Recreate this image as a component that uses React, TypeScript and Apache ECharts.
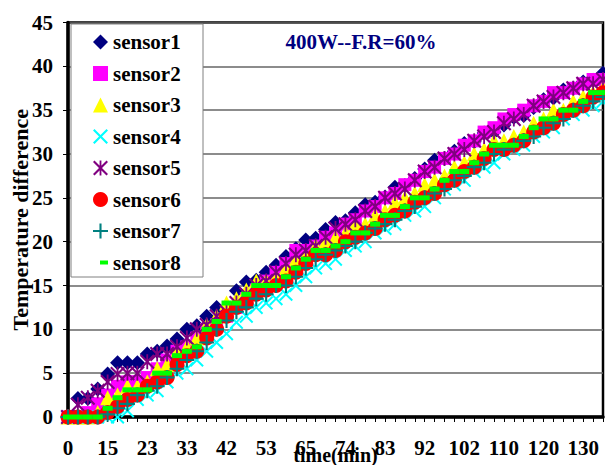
import React, { useEffect, useRef } from "react";
import * as echarts from "echarts";

// time (min) for each sample; only every 4th is shown as a label
const timeMinutes = [
  0, 4, 8, 11, 15, 17, 19, 21, 23, 26, 28, 31, 33, 35, 37, 40, 42, 45, 48, 50,
  53, 56, 59, 62, 65, 67, 69, 72, 74, 76, 78, 81, 83, 85, 87, 90, 92, 95, 97, 100,
  102, 104, 106, 108, 110, 113, 115, 118, 120, 123, 125, 128, 130, 132, 135,
];

const sensorNames = ["sensor1", "sensor2", "sensor3", "sensor4", "sensor5", "sensor6", "sensor7", "sensor8"];

const sensor1 = [
  0, 2.1, 2.1, 3.2, 4.9, 6.2, 6.2, 6.2, 7.2, 7.5, 8.1, 8.9, 10, 10.4, 11.5, 12.5, 12.5, 14.4, 15.4, 15.6,
  16.5, 17.3, 18.3, 19.2, 20.2, 20.4, 21.4, 22.2, 22.4, 23.3, 24.2, 24.5, 25.1, 26.2, 26.4, 27.2, 28.3, 29.3, 29.5, 30.3,
  31.2, 31.4, 32.4, 32.5, 33.3, 34.2, 34.4, 35.3, 36.2, 36.4, 37.3, 37.5, 38.2, 38.4, 39.2,
];
const sensor2 = [
  0, 0, 0.5, 1.5, 2.5, 3.5, 4, 4, 4.5, 5.5, 6.5, 7.5, 8, 9, 10, 10.5, 11.5, 12.5, 13.5, 14.5,
  15.5, 16.5, 17.5, 19, 19, 19.5, 20.5, 21, 22, 22.5, 23.5, 24, 25, 25.5, 26.5, 27, 28, 28.5, 29.5, 30,
  31, 31.5, 32.5, 33, 34, 34.5, 35, 35.5, 36, 37, 37, 37.5, 38, 38.5, 38.5,
];
const sensor3 = [
  0, 0, 0, 0.5, 2.2, 2.5, 3.5, 3.5, 4, 5.5, 6, 7.5, 8, 9, 10.5, 11.5, 13, 13.5, 14.5, 15.5,
  15.5, 16, 17, 18, 18.5, 19.5, 20, 20.5, 21, 22, 22, 23, 23.5, 24.5, 25, 25.5, 26.5, 27, 27.5, 28.5,
  29, 30, 30.5, 31.5, 31.5, 32, 32.5, 33.5, 34, 35, 35, 36, 36.5, 37, 37.5,
];
const sensor4 = [
  0, 0, 0, 0, 0, 0, 0.7, 2, 2.5, 3, 4, 5, 5.5, 6.5, 7.5, 8.5, 9.5, 10.8, 11.5, 12.5,
  13, 13.5, 14, 15, 16, 17, 17.5, 18, 19, 19.5, 20, 21, 21.5, 22, 23, 23.5, 24, 25, 26, 26.5,
  27, 28, 28.5, 29, 30, 30.5, 31, 32, 32.5, 33, 34, 34.5, 35, 35.5, 36,
];
const sensor5 = [
  0, 1.4, 2.2, 3, 4, 4.9, 5, 5, 6.3, 7.2, 7.2, 8, 9, 10, 10.5, 11.5, 12, 13, 14, 15,
  15.5, 16.5, 17.5, 18.5, 19, 19.5, 20.5, 21.5, 22, 22.5, 23.5, 24, 25, 25.5, 26, 27, 28, 28.5, 29.5, 30,
  30.5, 31.5, 32, 32.5, 33.5, 34, 34.5, 35.5, 36, 36.5, 37, 37.5, 38, 38, 38.5,
];
const sensor6 = [
  0, 0, 0, 0, 0.5, 1.2, 2, 2.5, 3.5, 4, 4.5, 6, 7, 7.5, 9, 10, 11.5, 12.5, 13, 14,
  14.5, 15, 15.5, 16.5, 17.5, 18.5, 18.5, 19, 20, 20.5, 21, 21.5, 22.5, 23, 23.5, 24.5, 25, 25.5, 26.5, 27,
  28, 28.5, 29.5, 30.5, 30.5, 31, 31.5, 32.5, 33, 33.5, 34.5, 35, 35.5, 36.5, 37,
];
const sensor7 = [
  0, 0, 0, 0, 0.3, 1, 1.5, 2.5, 3, 3.5, 4.5, 5.5, 6.5, 7.5, 8.5, 10, 11, 12, 12.5, 13.5,
  14, 15, 15, 16, 17, 18, 18.5, 19, 19.5, 20, 21, 21.5, 22, 22.5, 23.5, 24, 25, 25.5, 26, 27,
  27.5, 28.5, 29, 30, 30.5, 31, 31.5, 32, 33, 33.5, 34, 35, 35.5, 36, 36.5,
];
const sensor8 = [
  0, 0, 0, 0, 1, 2.2, 3.1, 3.1, 3.1, 5, 5, 7, 7.5, 8, 10, 10.9, 13, 13, 14, 15,
  15, 15, 16, 17, 18, 19, 19, 19.5, 20, 21, 21, 22, 23, 23, 24, 25, 25, 26, 27, 28,
  28, 29, 30, 31, 31, 31, 32, 33, 34, 34, 35, 35, 36, 37, 37,
];

const sensorValues = [sensor1, sensor2, sensor3, sensor4, sensor5, sensor6, sensor7, sensor8];

const chartTitle = "400W--F.R=60%";
const xName = "time(min)";
const yName = "Temperature difference";
const yMin = 0;
const yMax = 45;
const yStep = 5;

const X_PATH = "path://M0,1L1,0L5,4L9,0L10,1L6,5L10,9L9,10L5,6L1,10L0,9L4,5Z";
const STAR_PATH =
  "path://M0,1L1,0L5,4L9,0L10,1L6,5L10,9L9,10L5,6L1,10L0,9L4,5ZM4.4,0L5.6,0L5.6,10L4.4,10Z";
const PLUS_PATH =
  "path://M4.3,0L5.7,0L5.7,4.3L10,4.3L10,5.7L5.7,5.7L5.7,10L4.3,10L4.3,5.7L0,5.7L0,4.3L4.3,4.3Z";

const FONT = "'Liberation Serif', 'Times New Roman', serif";

const markerStyles = [
  { symbol: "diamond", size: 15, color: "#000080" },
  { symbol: "rect", size: 13, color: "#FF00FF" },
  { symbol: "triangle", size: 15, color: "#FFFF00" },
  { symbol: X_PATH, size: 14, color: "#00FFFF" },
  { symbol: STAR_PATH, size: 15, color: "#800080" },
  { symbol: "circle", size: 15, color: "#FF0000" },
  { symbol: PLUS_PATH, size: 15, color: "#008080" },
  { symbol: "rect", size: [10, 5], color: "#00FF00" },
];

const legendCenters = [42, 73.5, 105, 136.5, 168, 199.5, 231, 262.5];

export default function App() {
  const ref = useRef<HTMLDivElement>(null);

  useEffect(() => {
    if (!ref.current) return;
    const chart = echarts.init(ref.current, null, { renderer: "svg" });

    const series = sensorNames.map((name, i) => ({
      type: "scatter",
      name,
      data: sensorValues[i],
      symbol: markerStyles[i].symbol,
      symbolSize: markerStyles[i].size,
      itemStyle: { color: markerStyles[i].color, opacity: 1 },
      clip: false,
      emphasis: { disabled: true },
    }));

    const legends = sensorNames.map((name, i) => {
      const isDash = i === 7;
      return {
        show: true,
        orient: "vertical",
        left: isDash ? 100 : 93,
        top: legendCenters[i] - 10.5,
        padding: 0,
        itemGap: 0,
        itemWidth: isDash ? 8 : 15,
        itemHeight: isDash ? 4 : 15,
        selectedMode: false,
        z: 10,
        data: [{ name, icon: markerStyles[i].symbol }],
        textStyle: { fontFamily: FONT, fontWeight: "bold", fontSize: 21, color: "#000" },
      };
    });

    chart.setOption({
      animation: false,
      backgroundColor: "#fff",
      grid: {
        left: 68,
        right: 2,
        top: 22.5,
        bottom: 48,
        show: true,
        containLabel: false,
        outerBoundsMode: "none",
        borderColor: "#000",
        borderWidth: 2.5,
        backgroundColor: "transparent",
      },
      legend: legends,
      graphic: [
        {
          type: "rect",
          z: 5,
          shape: { x: 71, y: 24, width: 132, height: 253 },
          style: { fill: "#fff", stroke: "#808080", lineWidth: 1 },
        },
        {
          type: "text",
          z: 6,
          x: 361,
          y: 42,
          style: {
            text: chartTitle,
            fill: "#000080",
            font: `bold 21px ${FONT}`,
            align: "center",
            verticalAlign: "middle",
            textAlign: "center",
            textVerticalAlign: "middle",
          },
        },
      ],
      xAxis: {
        type: "category",
        data: timeMinutes.map(String),
        boundaryGap: false,
        name: xName,
        nameLocation: "middle",
        nameGap: 28,
        nameMoveOverlap: false,
        nameTextStyle: { fontFamily: FONT, fontWeight: "bold", fontSize: 20, color: "#000" },
        axisLine: { show: true, lineStyle: { color: "#000", width: 3.5 } },
        axisTick: { show: true, interval: 0, length: 5, lineStyle: { color: "#000", width: 1 } },
        axisLabel: {
          interval: 3,
          margin: 20,
          fontFamily: FONT,
          fontWeight: "bold",
          fontSize: 21,
          color: "#000",
        },
        splitLine: { show: false },
      },
      yAxis: {
        type: "value",
        min: yMin,
        max: yMax,
        interval: yStep,
        name: yName,
        nameLocation: "middle",
        nameGap: 37,
        nameMoveOverlap: false,
        nameTextStyle: { fontFamily: FONT, fontWeight: "bold", fontSize: 22, color: "#000" },
        axisLine: { show: true, lineStyle: { color: "#000", width: 3.5 } },
        axisTick: { show: true, length: 5, lineStyle: { color: "#000", width: 1 } },
        axisLabel: { margin: 15, fontFamily: FONT, fontWeight: "bold", fontSize: 21, color: "#000" },
        splitLine: { show: true, lineStyle: { color: "#666", width: 1.5 } },
      },
      series,
    });

    return () => chart.dispose();
  }, []);

  return <div ref={ref} style={{ width: 605, height: 465, position: "absolute", left: 0, top: 0 }} />;
}
